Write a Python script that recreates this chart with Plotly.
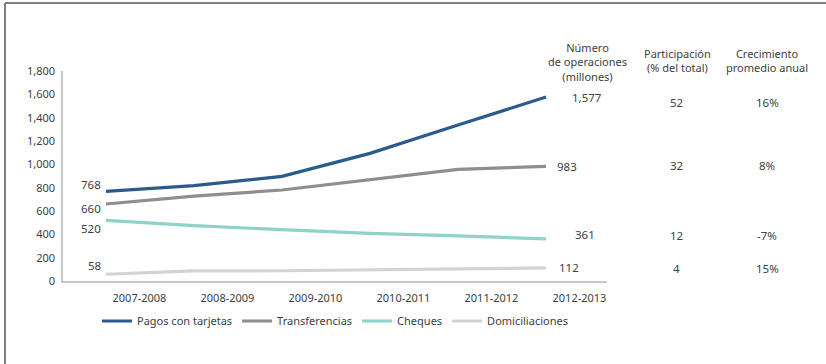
import plotly.graph_objects as go

# Periods and operation counts (millions)
periods = ["2007-2008", "2008-2009", "2009-2010", "2010-2011", "2011-2012", "2012-2013"]
series_names = ["Pagos con tarjetas", "Transferencias", "Cheques", "Domiciliaciones"]
tarjetas = [768, 817, 897, 1094, 1337, 1577]
transferencias = [660, 728, 780, 871, 957, 983]
cheques = [520, 474, 440, 408, 386, 361]
domiciliaciones = [58, 86, 88, 94, 105, 112]
participacion = ["52", "32", "12", "4"]
crecimiento = ["16%", "8%", "-7%", "15%"]
y_ticks = [0, 200, 400, 600, 800, 1000, 1200, 1400, 1600, 1800]

series = [tarjetas, transferencias, cheques, domiciliaciones]
colors = ["#2b5b8c", "#8e8e8e", "#8fd3c6", "#d3d3d3"]

W, H = 826, 364
L, R, T, B = 63, 607, 71, 281  # plot area in pixels
FONT = "Noto Sans"
TXT = "#404040"


def px(x):
    return (x - L) / (R - L)


def py(y):
    return (B - y) / (B - T)


xs = list(range(len(periods)))
fig = go.Figure()
for name, vals, col in zip(series_names, series, colors):
    fig.add_trace(go.Scatter(x=xs, y=vals, name=name, mode="lines",
                             line=dict(color=col, width=3.2)))

# first/last value labels
left_shift = [(-3, 7), (-3, -4), (-3, -8), (-3, 9)]
right_shift = [(24, 0), (9, 0), (27, 4), (11, 0)]
annotations = []
for vals, (lx, ly), (rx, ry) in zip(series, left_shift, right_shift):
    annotations.append(dict(x=xs[0], y=vals[0], xref="x", yref="y", text=f"{vals[0]:,}",
                            showarrow=False, xanchor="right", xshift=lx, yshift=ly,
                            font=dict(size=11.5, color=TXT, family=FONT)))
    annotations.append(dict(x=xs[-1], y=vals[-1], xref="x", yref="y", text=f"{vals[-1]:,}",
                            showarrow=False, xanchor="left", xshift=rx, yshift=ry,
                            font=dict(size=11.5, color=TXT, family=FONT)))

# table columns on the right
headers = [("Número<br>de operaciones<br>(millones)", 587, 62),
           ("Participación<br>(% del total)", 677, 61),
           ("Crecimiento<br>promedio anual", 767, 61)]
for text, x, y in headers:
    annotations.append(dict(x=px(x), y=py(y), xref="paper", yref="paper", text=text,
                            showarrow=False, xanchor="center", yanchor="middle",
                            font=dict(size=11, color=TXT, family=FONT)))
row_y = [102, 165, 235, 268]
for p, c, y in zip(participacion, crecimiento, row_y):
    annotations.append(dict(x=px(676), y=py(y), xref="paper", yref="paper", text=p,
                            showarrow=False, xanchor="center", yanchor="middle",
                            font=dict(size=11.5, color=TXT, family=FONT)))
    annotations.append(dict(x=px(767), y=py(y), xref="paper", yref="paper", text=c,
                            showarrow=False, xanchor="center", yanchor="middle",
                            font=dict(size=11.5, color=TXT, family=FONT)))

# outer frame: top and left edges
shapes = [
    dict(type="line", xref="paper", yref="paper", x0=px(5), x1=px(W), y0=py(3), y1=py(3),
         line=dict(color="#808080", width=2)),
    dict(type="line", xref="paper", yref="paper", x0=px(5), x1=px(5), y0=py(3), y1=py(H),
         line=dict(color="#808080", width=2)),
]

fig.update_layout(
    width=W, height=H,
    margin=dict(l=L, r=W - R, t=T, b=H - B),
    paper_bgcolor="white", plot_bgcolor="white",
    font=dict(family=FONT, size=11, color=TXT),
    showlegend=True,
    legend=dict(orientation="h", x=0.5, xanchor="center", y=py(321), yanchor="middle",
                font=dict(size=11, color=TXT, family=FONT), itemwidth=30,
                tracegroupgap=0),
    annotations=annotations,
    shapes=shapes,
    xaxis=dict(range=[-43 / 88, 5 + 61 / 88], tickmode="array",
               tickvals=[i + 0.38 for i in xs], ticktext=periods,
               showgrid=False, zeroline=False, showline=True, linecolor="#c8c8c8",
               linewidth=1.5, ticks="", ticklabelstandoff=6,
               tickfont=dict(size=11, color=TXT)),
    yaxis=dict(range=[0, 1800], tickmode="array", tickvals=y_ticks,
               ticktext=[f"{v:,}" for v in y_ticks],
               showgrid=False, zeroline=False, showline=True, linecolor="#c8c8c8",
               linewidth=1.5, ticks="", ticklabelstandoff=4,
               tickfont=dict(size=11, color=TXT)),
)

fig.write_html("out.html")
